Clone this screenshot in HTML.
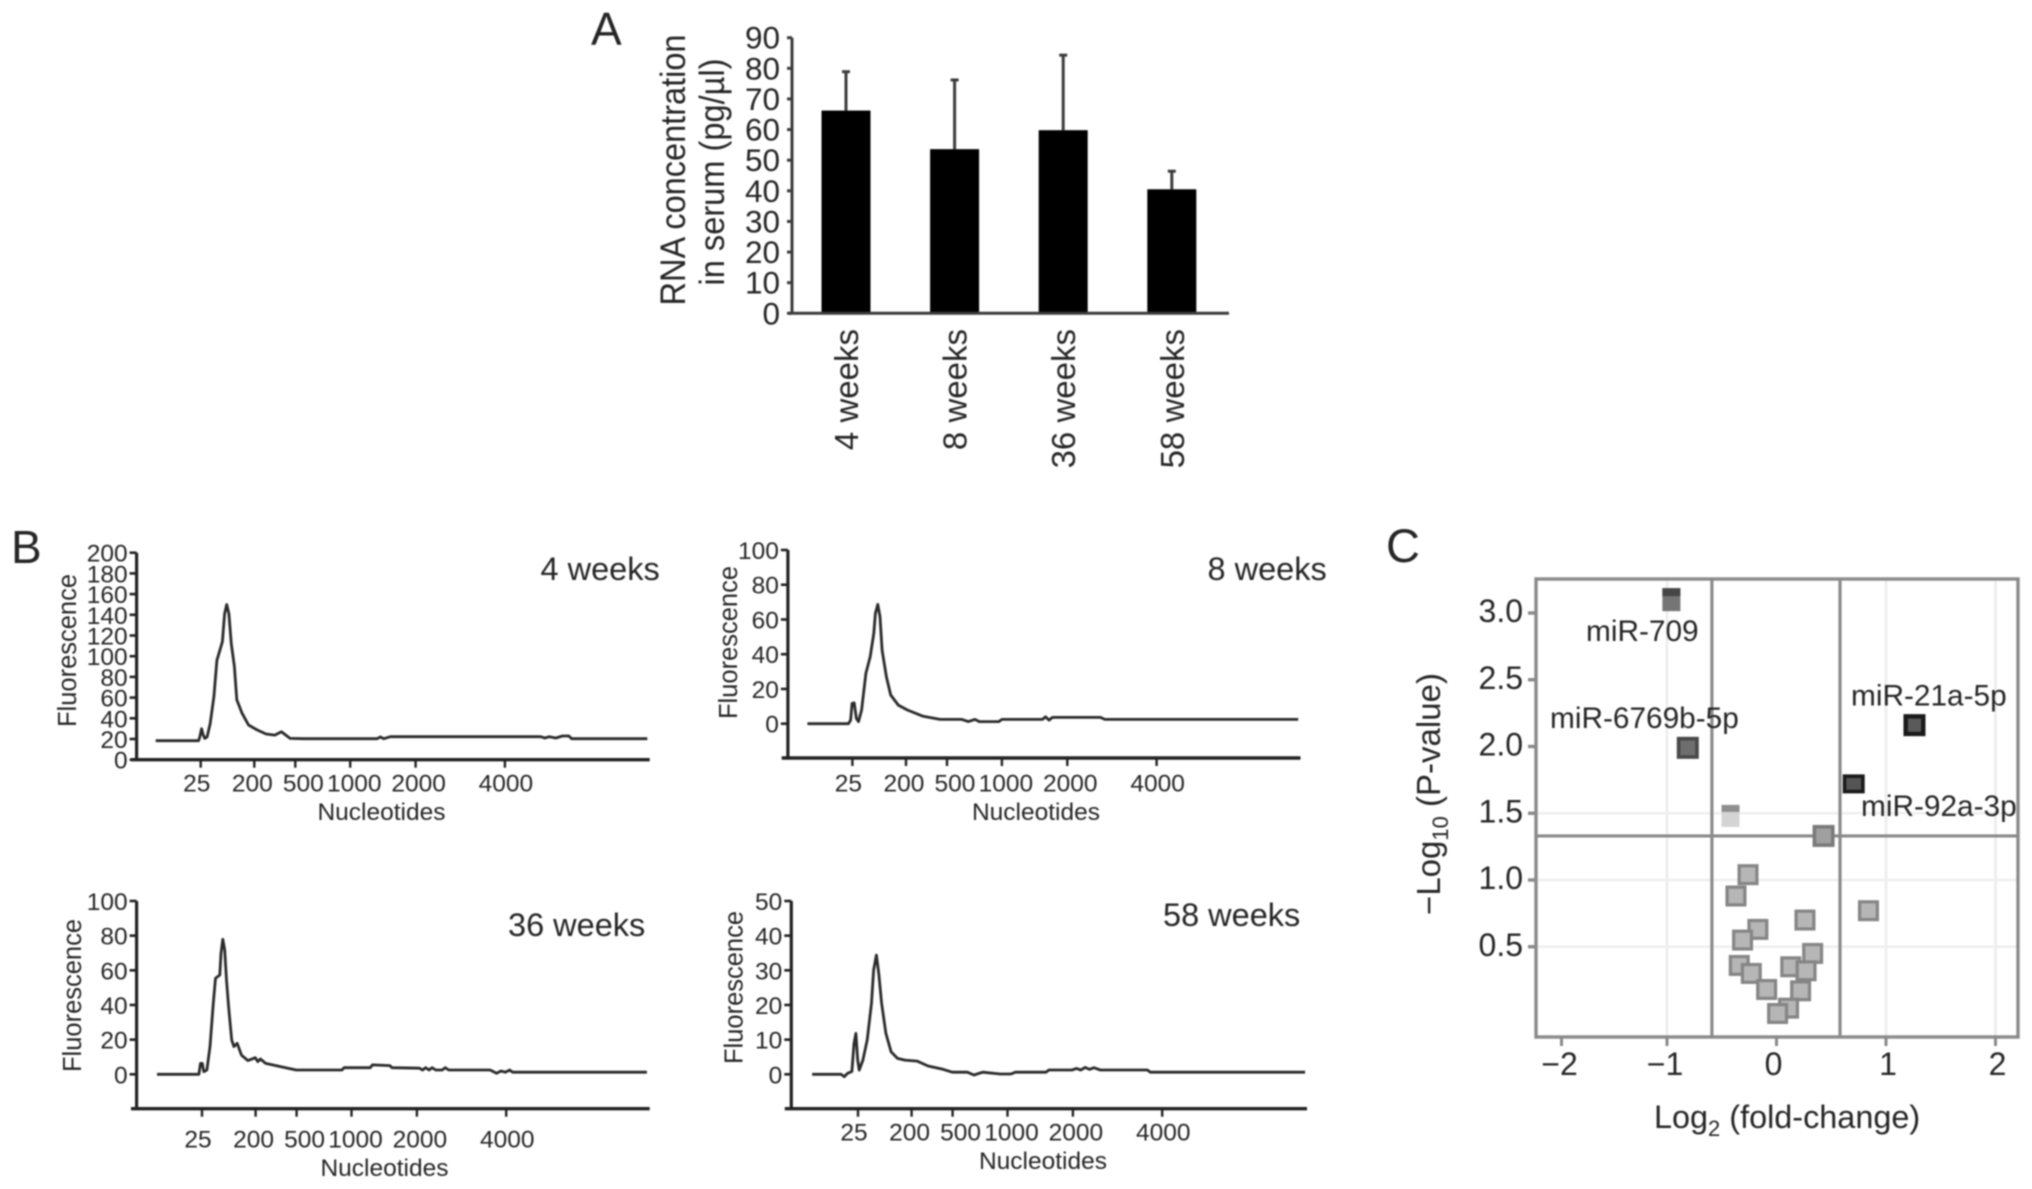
<!DOCTYPE html>
<html lang="en">
<head>
<meta charset="utf-8">
<title>Serum RNA concentration, Bioanalyzer traces and miRNA volcano plot</title>
<style>
html,body{margin:0;padding:0;background:#fff;}
svg{display:block;filter:blur(0.7px);}
text{font-family:"Liberation Sans",Arial,sans-serif;fill:#262626;}
</style>
</head>
<body>
<svg id="figure" xmlns="http://www.w3.org/2000/svg" width="2032" height="1189" viewBox="0 0 2032 1189">
  <rect x="0" y="0" width="2032" height="1189" fill="#fff"/>

  <text x="591" y="45" font-size="46" fill="#111">A</text>
  <text x="11" y="563" font-size="46" fill="#111">B</text>
  <text x="1386" y="562" font-size="47" fill="#111">C</text>

  <text transform="translate(685,170) rotate(-90)" text-anchor="middle" font-size="35" textLength="271" lengthAdjust="spacingAndGlyphs">RNA  concentration</text>
  <text transform="translate(724,172) rotate(-90)" text-anchor="middle" font-size="35" textLength="227" lengthAdjust="spacingAndGlyphs">in serum (pg/µl)</text>

  <text x="540.5" y="580" font-size="32.5">4 weeks</text>
  <text x="1207.5" y="580" font-size="32.5">8 weeks</text>
  <text x="508" y="936" font-size="32.5">36 weeks</text>
  <text x="1163" y="926" font-size="32.5">58 weeks</text>

  <text transform="translate(76,650.5) rotate(-90)" text-anchor="middle" font-size="25.5">Fluorescence</text>
  <text transform="translate(737,642.5) rotate(-90)" text-anchor="middle" font-size="25.5">Fluorescence</text>
  <text transform="translate(81,995.5) rotate(-90)" text-anchor="middle" font-size="25.5">Fluorescence</text>
  <text transform="translate(742.5,987.5) rotate(-90)" text-anchor="middle" font-size="25.5">Fluorescence</text>

  <text x="381.5" y="820" text-anchor="middle" font-size="24.5">Nucleotides</text>
  <text x="1036" y="820" text-anchor="middle" font-size="24.5">Nucleotides</text>
  <text x="384.5" y="1176" text-anchor="middle" font-size="24.5">Nucleotides</text>
  <text x="1043" y="1169" text-anchor="middle" font-size="24.5">Nucleotides</text>

  <text x="1654" y="1128" font-size="32.4">Log<tspan font-size="22" dy="8">2</tspan><tspan dy="-8"> (fold-change)</tspan></text>
  <text transform="translate(1440,794) rotate(-90)" text-anchor="middle" font-size="33">−Log<tspan font-size="22" dy="8">10</tspan><tspan dy="-8"> (P-value)</tspan></text>

  <g id="bar-chart"></g>
  <g id="trace-charts" transform="translate(-2,0)"></g>
  <g id="volcano-chart"></g>
</svg>

<script>
// ---- Panel A data ----
const barCategories = ['4 weeks', '8 weeks', '36 weeks', '58 weeks'];
const barMeans = [66.2, 53.6, 59.8, 40.5];
const barErrorTops = [78.9, 76.2, 84.3, 46.4];
const barTicks = [0, 10, 20, 30, 40, 50, 60, 70, 80, 90];

// ---- Panel B data ----
const ladderTicks = [25, 200, 500, 1000, 2000, 4000];
const ticks200 = [0, 20, 40, 60, 80, 100, 120, 140, 160, 180, 200];
const ticks100 = [0, 20, 40, 60, 80, 100];
const ticks50 = [0, 10, 20, 30, 40, 50];

const trace4wNt = [-122,18,22,28,32,38,46,56,68,78,96,103,110,117,125,135,143,160,181,222,286,350,398,462,571,1413,1460,1513,1613,4800,4898,4995,5141,5288,5434,5493,7190];
const trace4wFluor = [18.4,18.4,22,30,25,20.6,22,35,61,96,114,141,150,141,112,90,58,45,33.5,28.7,24.8,23.8,27,20.6,20.3,20.3,22,20.3,22.2,22.2,21,22.2,21,22.9,22.9,20.3,20.3];

const trace8wNt = [-122,12,19,24,31,38,45,55,69,83,95,100,108,115,122,136,150,175,210,321,449,635,694,754,794,972,1000,1620,1667,1720,1773,2741,2839,7171];
const trace8wFluor = [0,0,2,11.7,12,3,1.2,7.9,29,38.6,52,63.5,68.7,61.6,42.4,27,16.5,10.7,7.9,4.4,2.5,2.5,1.2,2.5,1.2,1.2,2.5,2.5,4,2.1,3.6,3.6,2.5,2.5];

const trace36wNt = [-122,15,20,26,31,41,51,62,69,83,87,93,99,105,112,122,129,140,154,175,199,216,235,274,386,497,913,933,1287,1320,1587,1620,2059,2127,2195,2273,2341,2420,2566,2634,2712,3639,3785,3883,3980,4078,4146,7151];
const trace36wFluor = [0,0,6.3,6.3,1.5,2.5,16,41,55.4,57.3,69.8,77.9,71.7,54.4,39,19.8,16,17.9,11,7.9,9.6,7.3,8.8,6.3,4.4,2.5,2.5,3.8,3.8,5.4,5,3.8,3.5,2.5,3.8,2.5,3.8,2.5,2.5,3.8,2.5,2.5,0.6,1.9,1.2,2.5,1.2,1.2];

const trace58wNt = [-125,-30,-20,-9,5,12,18,24,29,41,55,69,76,85,93,102,116,133,154,178,241,321,433,497,635,694,774,933,1053,1120,1587,1633,1987,2078,2176,2273,2371,2468,2615,3668,3736,7200];
const trace58wFluor = [0,0,-0.7,0.3,0.8,8.9,11.8,4.1,1.2,4.1,9.9,20.5,30,34.4,29,20.5,11.8,6.5,4.6,4.1,3.8,2.4,1.4,0.6,0.6,-0.2,0.6,0.1,0.1,0.6,0.6,1.25,1.25,1.7,1.25,2,1.4,1.9,1.25,1.25,0.6,0.6];

// ---- Panel C data ----
const volcanoXTicks = [-2, -1, 0, 1, 2];
const volcanoXGrid = [-1, 1, 2];
const volcanoYTicks = [0.5, 1.0, 1.5, 2.0, 2.5, 3.0];
const volcanoYGrid = [0.5, 1.0, 1.5];
const foldThresholds = [-0.59, 0.58];
const pThreshold = 1.33;
const mirLog2FC = [-0.42,0.43,-0.26,-0.37,0.84,0.26,-0.17,-0.31,0.33,-0.34,-0.23,0.13,0.27,-0.09,0.22,0.11,0.01,-0.96,-0.81,1.26,0.705];
const mirNegLogP = [1.48,1.33,1.04,0.88,0.77,0.70,0.63,0.55,0.45,0.36,0.30,0.35,0.32,0.18,0.17,0.04,0.00,3.10,1.99,2.16,1.72];
const mirClass = ['pale','mid','ns','ns','ns','ns','ns','ns','ns','ns','ns','ns','ns','ns','ns','ns','ns','band','down','up','upflat'];
const mirLabels = ['miR-709', 'miR-6769b-5p', 'miR-21a-5p', 'miR-92a-3p'];

const NS = 'http://www.w3.org/2000/svg';
function mk(parent, tag, attrs) {
  const el = document.createElementNS(NS, tag);
  for (const k in attrs) el.setAttribute(k, attrs[k]);
  parent.appendChild(el);
  return el;
}
function line(parent, x1, y1, x2, y2, stroke, width) {
  return mk(parent, 'line', { x1, y1, x2, y2, stroke, 'stroke-width': width });
}
function label(parent, str, x, y, size, anchor) {
  const el = mk(parent, 'text', { x, y, 'font-size': size, 'text-anchor': anchor || 'start' });
  el.textContent = str;
  return el;
}

// ---- Panel A ----
(function drawBars() {
  const g = document.getElementById('bar-chart');
  const y = v => 313.3 - v * (275.6 / 90);
  const x = i => 846 + i * 108.6;
  const bw = 49;

  const yAxis = line(g, 792, y(90), 792, y(0), '#3c3c3c', 3);
  
  
  barTicks.forEach(t => {
    const tick = line(g, 787, y(t), 792, y(t), '#3c3c3c', 3);
    
    
    const lab = label(g, String(t), 780, y(t) + 11, 31.5, 'end');
    
    
  });
  barCategories.forEach((c, i) => {
    const err = line(g, x(i), y(barErrorTops[i]), x(i), y(barMeans[i]), '#3c3c3c', 3);
    
    
    const cap = line(g, x(i) - 4, y(barErrorTops[i]), x(i) + 4, y(barErrorTops[i]), '#3c3c3c', 3);
    
    
    const bar = mk(g, 'rect', { x: x(i) - bw / 2, y: y(barMeans[i]), width: bw, height: y(0) - y(barMeans[i]), fill: '#000' });
    
    
    const lab = label(g, c, 0, 0, 33, 'end');
    lab.setAttribute('transform', 'translate(' + (x(i) + 12) + ',329) rotate(-90)');
    
    
  });
  const xAxis = line(g, 789, y(0), 1229, y(0), '#3c3c3c', 3);
  
  
})();

// ---- Panel B ----
function ladderOffset(nt) {
  const nts = [25, 200, 500, 1000, 2000, 4000];
  const px = [0, 53.6, 94.6, 149.5, 214.9, 304.2];
  if (nt <= nts[0]) return (nt - nts[0]) * (px[1] - px[0]) / (nts[1] - nts[0]);
  for (let i = 1; i < nts.length; i++) {
    if (nt <= nts[i]) return px[i - 1] + (nt - nts[i - 1]) * (px[i] - px[i - 1]) / (nts[i] - nts[i - 1]);
  }
  const n = nts.length - 1;
  return px[n] + (nt - nts[n]) * (px[n] - px[n - 1]) / (nts[n] - nts[n - 1]);
}
function drawTrace(id, cfg, yTicks, nts, fluor) {
  const root = document.getElementById('trace-charts');
  const g = mk(root, 'g', {});
  
  

  const vMax = yTicks[yTicks.length - 1];
  const y = v => cfg.y0 + (cfg.yTop - cfg.y0) * v / vMax;
  const x = nt => cfg.x25 + ladderOffset(nt);
  const nudge = [-4, -2, 8, 4, 3, 1];

  const yAxis = line(g, cfg.axisX, y(vMax), cfg.axisX, cfg.base, '#222', 3.2);
  
  
  const xAxis = line(g, cfg.xStart, cfg.base, cfg.xEnd, cfg.base, '#222', 3.4);
  
  

  yTicks.forEach(t => {
    const tick = line(g, cfg.axisX - 7, y(t), cfg.axisX, y(t), '#222', 2.6);
    
    
    const lab = label(g, String(t), cfg.axisX - 9, y(t) + 9, 24.5, 'end');
    
    
  });
  ladderTicks.forEach((t, i) => {
    const tick = line(g, x(t), cfg.base, x(t), cfg.base + 8, '#222', 2.4);
    
    
    const lab = label(g, String(t), x(t) + nudge[i], cfg.labelY, 24.5, 'middle');
    
    
  });
  const d = nts.map((n, i) => (i ? 'L' : 'M') + x(n).toFixed(1) + ' ' + y(fluor[i]).toFixed(1)).join('');
  const path = mk(g, 'path', { d, fill: 'none', stroke: '#2b2b2b', 'stroke-width': 2.8, 'stroke-linejoin': 'round' });
  
  
}
drawTrace('4w',  { axisX: 138.6, xStart: 133,   xEnd: 651.7,  base: 759.7,  y0: 759.7,  yTop: 552.7, x25: 202.7, labelY: 791.7 },  ticks200, trace4wNt,  trace4wFluor);
drawTrace('8w',  { axisX: 789.9, xStart: 783.7, xEnd: 1302.5, base: 758,    y0: 723.7,  yTop: 550,   x25: 854.4, labelY: 791.7 },  ticks100, trace8wNt,  trace8wFluor);
drawTrace('36w', { axisX: 138.6, xStart: 133,   xEnd: 651.7,  base: 1108.7, y0: 1074.3, yTop: 901,   x25: 204,   labelY: 1147.7 }, ticks100, trace36wNt, trace36wFluor);
drawTrace('58w', { axisX: 793.3, xStart: 786.8, xEnd: 1309,   base: 1108.7, y0: 1074.3, yTop: 901,   x25: 860,   labelY: 1140.7 }, ticks50,  trace58wNt, trace58wFluor);

// ---- Panel C ----
(function drawVolcano() {
  const g = document.getElementById('volcano-chart');
  const x = v => 1776.5 + v * 109.5;
  const y = v => 613 + (3 - v) * 133.5;
  const tickX = t => (t === -2 ? x(t) + 4 : x(t));
  const left = 1536, right = 2018, top = 579, bottom = 1037;
  const frameColor = '#8a8a8a';

  volcanoXGrid.forEach(t => {
    const grid = line(g, x(t), top, x(t), bottom, '#ececec', 2.6);
    
    
  });
  volcanoYGrid.forEach(t => {
    const grid = line(g, left, y(t), right, y(t), '#efefef', 2.6);
    
    
  });
  volcanoXTicks.forEach(t => {
    const tick = line(g, tickX(t), bottom, tickX(t), bottom + 9, frameColor, 3);
    
    
    const str = t < 0 ? '\u2212' + Math.abs(t) : String(t);
    const lab = label(g, str, tickX(t) + (t < 0 ? -2 : t > 0 ? 2 : -3), 1075, 32, 'middle');
    
    
  });
  volcanoYTicks.forEach(t => {
    const tick = line(g, left - 8, y(t), left, y(t), frameColor, 3.4);
    
    
    const lab = label(g, t.toFixed(1), 1523, y(t) + 9, 32, 'end');
    
    
  });

  const frame = mk(g, 'rect', { x: left, y: top, width: right - left, height: bottom - top, fill: 'none', stroke: frameColor, 'stroke-width': 3.4 });
  
  
  foldThresholds.forEach(t => {
    const th = line(g, x(t), top, x(t), bottom, frameColor, 3.2);
    
    
  });
  const pLine = line(g, left, y(pThreshold), right, y(pThreshold), frameColor, 3.2);
  
  

  const looks = {
    ns:     { w: 21, h: 21, fill: '#b6b6b6', stroke: '#858585', sw: 3.2 },
    mid:    { w: 22, h: 22, fill: '#a0a0a0', stroke: '#7a7a7a', sw: 3.6 },
    pale:   { w: 18, h: 22, fill: '#d4d4d4', stroke: 'none',    sw: 0, band: '#8f8f8f', bandH: 7 },
    band:   { w: 18, h: 23, fill: '#757575', stroke: 'none',    sw: 0, band: '#464646', bandH: 8 },
    down:   { w: 22, h: 22, fill: '#6e6e6e', stroke: '#484848', sw: 3.6 },
    up:     { w: 22, h: 22, fill: '#5a5a5a', stroke: '#1a1a1a', sw: 4.4 },
    upflat: { w: 22, h: 19, fill: '#555',    stroke: '#1a1a1a', sw: 3.6 }
  };
  mirLog2FC.forEach((fc, i) => {
    const s = looks[mirClass[i]];
    const px = x(fc), py = y(mirNegLogP[i]);
    const pt = mk(g, 'rect', {
      x: px - s.w / 2 + s.sw / 2, y: py - s.h / 2 + s.sw / 2,
      width: s.w - s.sw, height: s.h - s.sw,
      fill: s.fill, stroke: s.stroke, 'stroke-width': s.sw
    });
    
    
    if (s.band) {
      const band = mk(g, 'rect', { x: px - s.w / 2, y: py - s.h / 2, width: s.w, height: s.bandH, fill: s.band });
      
      
    }
  });

  const labelGeom = [[1586, 641], [1550, 728], [1851, 705.7], [1861, 816]];
  mirLabels.forEach((m, i) => {
    const lab = label(g, m, labelGeom[i][0], labelGeom[i][1], 29.8);
    
    
  });
})();
</script>
</body>
</html>
